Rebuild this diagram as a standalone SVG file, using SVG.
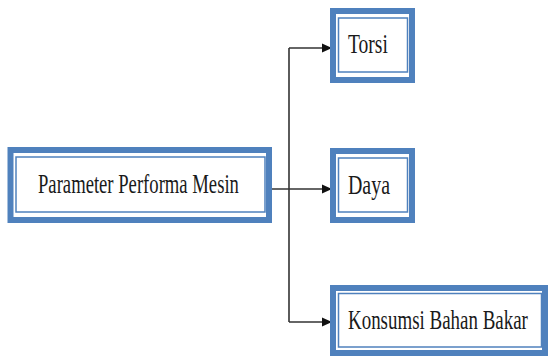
<svg xmlns="http://www.w3.org/2000/svg" width="549" height="358" viewBox="0 0 549 358">
<style>
.outer{fill:#fff;stroke:#4f81bd;stroke-width:6}
.inner{fill:none;stroke:#4f81bd;stroke-width:1.5}
.lbl{font-family:"Liberation Serif","Times New Roman",serif;font-size:27px;fill:#1a1a1a}
.conn{fill:none;stroke:#333;stroke-width:1.6}
</style>
<defs>
<marker id="ah" markerUnits="userSpaceOnUse" markerWidth="10" markerHeight="10" viewBox="0 0 10 10" refX="10" refY="5" orient="auto">
<path d="M0,0.5 L10,5 L0,9.5 Z" fill="#111"/>
</marker>
</defs>
<rect width="549" height="358" fill="#fff"/>
<g id="connectors">
<path class="conn" d="M272,189 H332" marker-end="url(#ah)"/>
<path class="conn" d="M289,48 V322"/>
<path class="conn" d="M289,48 H332" marker-end="url(#ah)"/>
<path class="conn" d="M289,322 H332" marker-end="url(#ah)"/>
</g>
<g id="main">
<rect class="outer" x="10.5" y="150" width="258.5" height="70"/>
<rect class="inner" x="16" y="157" width="249" height="55"/>
<text class="lbl" transform="translate(38,193) scale(0.7,1)" textLength="287" lengthAdjust="spacingAndGlyphs">Parameter Performa Mesin</text>
</g>
<g id="torsi">
<rect class="outer" x="333" y="11" width="79" height="69"/>
<rect class="inner" x="338.5" y="18" width="69" height="54"/>
<text class="lbl" transform="translate(348,53) scale(0.7,1)" textLength="57" lengthAdjust="spacingAndGlyphs">Torsi</text>
</g>
<g id="daya">
<rect class="outer" x="333" y="151" width="79" height="69"/>
<rect class="inner" x="338.5" y="158" width="69" height="54"/>
<text class="lbl" transform="translate(348,194) scale(0.7,1)" textLength="60" lengthAdjust="spacingAndGlyphs">Daya</text>
</g>
<g id="konsumsi">
<rect class="outer" x="333" y="288" width="212" height="65"/>
<rect class="inner" x="338.5" y="293.5" width="203" height="53.5"/>
<text class="lbl" transform="translate(348,329) scale(0.7,1)" textLength="257" lengthAdjust="spacingAndGlyphs">Konsumsi Bahan Bakar</text>
</g>
</svg>
